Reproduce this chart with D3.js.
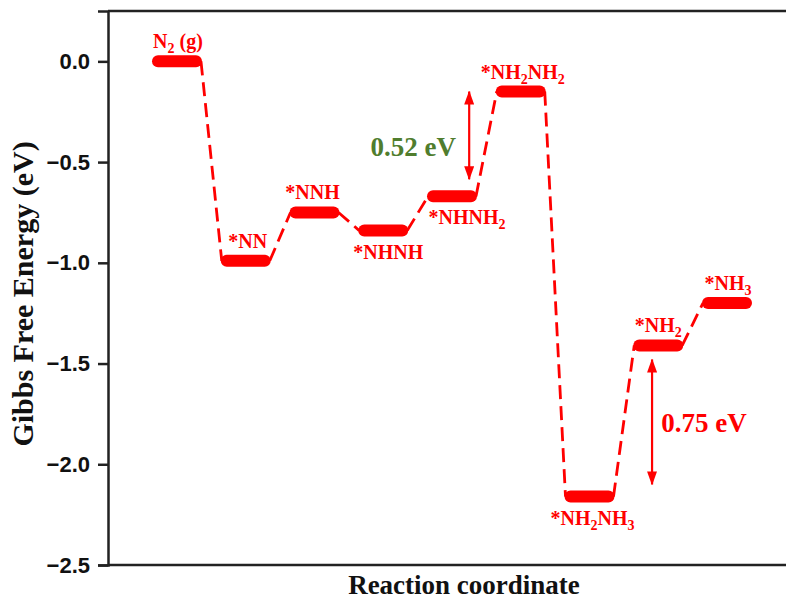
<!DOCTYPE html>
<html>
<head>
<meta charset="utf-8">
<script src="https://cdn.jsdelivr.net/npm/d3@7/dist/d3.min.js"></script>
<style>
  body { margin: 0; background: #fff; }
  svg { display: block; }
</style>
</head>
<body>
<svg id="chart"></svg>
<script>
// free energy of each intermediate (eV)
var steps = ["N_2 (g)", "*NN", "*NNH", "*NHNH", "*NHNH_2", "*NH_2NH_2", "*NH_2NH_3", "*NH_2", "*NH_3"];
var energies = [0.0, -0.99, -0.75, -0.84, -0.67, -0.15, -2.16, -1.41, -1.20];
var yTicks = [0.0, -0.5, -1.0, -1.5, -2.0, -2.5];

// energy gap arrows: [x position in step units, top, bottom]
var gapText = ["0.52 eV", "0.75 eV"];
var gapX = [4.25, 6.91];
var gapTop = [-0.15, -1.48];
var gapBottom = [-0.585, -2.10];

var width = 786, height = 601;
var plotLeft = 108, plotTop = 11, plotBottom = 565, plotRight = 800;

var svg = d3.select("#chart")
    .attr("width", width)
    .attr("height", height);

var x = d3.scaleLinear().domain([0, steps.length - 1]).range([177, 727]);
var y = d3.scaleLinear().domain([-2.5, 0.25]).range([plotBottom, plotTop]);

var red = "#ff0000", green = "#507d2e";

//frame: top and bottom lines run off the right edge
svg.append("line")
    .attr("x1", plotLeft).attr("x2", plotRight)
    .attr("y1", plotTop).attr("y2", plotTop)
    .style("stroke", "#222").style("stroke-width", 2.5);
svg.append("line")
    .attr("x1", plotLeft).attr("x2", plotRight)
    .attr("y1", plotBottom).attr("y2", plotBottom)
    .style("stroke", "#222").style("stroke-width", 2.5);

//y axis
var yAxis = svg.append("g")
    .attr("transform", "translate(" + plotLeft + ",0)")
    .call(d3.axisLeft(y).tickValues(yTicks).tickSize(10).tickPadding(8)
      .tickFormat(function(d){ return d3.format(".1f")(d).replace("-", "\u2212"); }));
yAxis.select(".domain").style("stroke", "#222").style("stroke-width", 2.5);
yAxis.selectAll(".tick line").style("stroke", "#222").style("stroke-width", 2.5);
yAxis.selectAll("text")
    .style("font-family", "Arial, 'Liberation Sans', sans-serif")
    .style("font-weight", "bold")
    .style("font-size", "22px")
    .style("fill", "#111");

//axis titles
svg.append("text")
    .attr("transform", "translate(33,294) rotate(-90)")
    .attr("text-anchor", "middle")
    .style("font-family", "'Liberation Serif', 'Times New Roman', serif")
    .style("font-weight", "bold")
    .style("font-size", "30px")
    .style("fill", "#111")
    .text("Gibbs Free Energy (eV)");

svg.append("text")
    .attr("x", 464).attr("y", 594)
    .attr("text-anchor", "middle")
    .style("font-family", "'Liberation Serif', 'Times New Roman', serif")
    .style("font-weight", "bold")
    .style("font-size", "27px")
    .style("fill", "#111")
    .text("Reaction coordinate");

//dashed connectors between levels
var halfBar = 24;
var links = d3.pairs(d3.range(steps.length));
svg.selectAll(".link")
    .data(links)
    .enter().append("line")
    .attr("class", "link")
    .attr("x1", function(d){ return x(d[0]) + halfBar; })
    .attr("y1", function(d){ return y(energies[d[0]]); })
    .attr("x2", function(d){ return x(d[1]) - halfBar; })
    .attr("y2", function(d){ return y(energies[d[1]]); })
    .style("stroke", red)
    .style("stroke-width", 2.8)
    .style("stroke-dasharray", "14,7");

//energy levels
svg.selectAll(".level")
    .data(energies)
    .enter().append("line")
    .attr("class", "level")
    .attr("x1", function(d, i){ return x(i) - 19; })
    .attr("x2", function(d, i){ return x(i) + 19; })
    .attr("y1", function(d){ return y(d); })
    .attr("y2", function(d){ return y(d); })
    .style("stroke", red)
    .style("stroke-width", 12)
    .style("stroke-linecap", "round");

//labels, "_" marks a subscript digit
var below = [3, 4, 6];
var labelDx = [1, 2, -2, 5, 15, 2, 3, 0, 1];
var labels = svg.selectAll(".label")
    .data(steps)
    .enter().append("text")
    .attr("class", "label")
    .attr("x", function(d, i){ return x(i) + labelDx[i]; })
    .attr("y", function(d, i){ return y(energies[i]) + (below.indexOf(i) >= 0 ? 28 : -13); })
    .attr("text-anchor", "middle")
    .style("font-family", "'Liberation Serif', 'Times New Roman', serif")
    .style("font-weight", "bold")
    .style("font-size", "20px")
    .style("fill", red);

labels.each(function(d){
  var t = d3.select(this);
  var parts = d.split("_");
  t.append("tspan").text(parts[0]);
  for (var k = 1; k < parts.length; k++){
    t.append("tspan").attr("dy", 5).style("font-size", "14px").text(parts[k].charAt(0));
    if (parts[k].length > 1) t.append("tspan").attr("dy", -5).text(parts[k].slice(1));
  }
});

//arrow heads
var defs = svg.append("defs");
defs.append("marker")
    .attr("id", "head")
    .attr("viewBox", "0 0 14 10")
    .attr("refX", 13).attr("refY", 5)
    .attr("markerWidth", 14).attr("markerHeight", 10)
    .attr("markerUnits", "userSpaceOnUse")
    .attr("orient", "auto-start-reverse")
  .append("path")
    .attr("d", "M0,0 L14,5 L0,10 Z")
    .style("fill", red);

svg.selectAll(".gap")
    .data(gapText)
    .enter().append("line")
    .attr("class", "gap")
    .attr("x1", function(d, i){ return x(gapX[i]); })
    .attr("x2", function(d, i){ return x(gapX[i]); })
    .attr("y1", function(d, i){ return y(gapTop[i]); })
    .attr("y2", function(d, i){ return y(gapBottom[i]); })
    .style("stroke", red)
    .style("stroke-width", 2.2)
    .attr("marker-start", "url(#head)")
    .attr("marker-end", "url(#head)");

//gap values
svg.append("text")
    .attr("x", x(gapX[0]) - 56).attr("y", 156)
    .attr("text-anchor", "middle")
    .style("font-family", "'Liberation Serif', 'Times New Roman', serif")
    .style("font-weight", "bold")
    .style("font-size", "27px")
    .style("fill", green)
    .text(gapText[0]);

svg.append("text")
    .attr("x", x(gapX[1]) + 52).attr("y", 432)
    .attr("text-anchor", "middle")
    .style("font-family", "'Liberation Serif', 'Times New Roman', serif")
    .style("font-weight", "bold")
    .style("font-size", "27px")
    .style("fill", red)
    .text(gapText[1]);
</script>
</body>
</html>
